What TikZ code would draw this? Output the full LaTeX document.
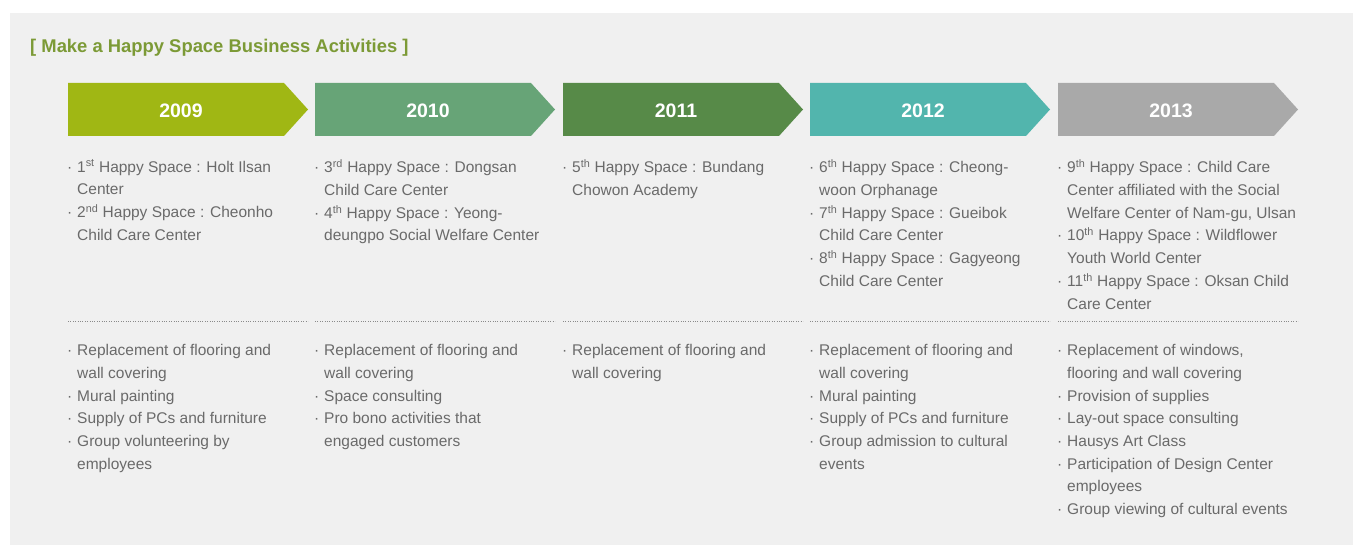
\documentclass[tikz,border=0pt]{standalone}
\usepackage{fontspec}
\setmainfont{Liberation Sans}
\definecolor{bg}{HTML}{F0F0F0}
\definecolor{txt}{HTML}{6A6A6A}
\definecolor{ttl}{HTML}{7C9A36}
\definecolor{c09}{HTML}{A0B714}
\definecolor{c10}{HTML}{67A477}
\definecolor{c11}{HTML}{578A48}
\definecolor{c12}{HTML}{52B5AD}
\definecolor{c13}{HTML}{A9A9A9}
\definecolor{dots}{HTML}{8A8A8A}
\newcommand\bu{\llap{·\hspace{5pt}}}
\newcommand\sups[1]{\textsuperscript{#1}}
\tikzset{
  year/.style={anchor=base, inner sep=0, text=white, font=\fontsize{19.5}{20}\selectfont\bfseries},
  item/.style={anchor=north west, inner sep=0, align=left, text=txt, font=\fontsize{15.5}{22.7}\selectfont, execute at begin node=\strut},
  sep/.style={draw=dots, line width=0.8pt, dash pattern=on 1pt off 1.4pt},
  ttlstyle/.style={anchor=base west, inner sep=0, text=ttl, font=\fontsize{18.4}{20}\selectfont\bfseries}
}
\begin{document}
\begin{tikzpicture}[x=1pt,y=-1pt]
\useasboundingbox (0,0) rectangle (1353,545);
\fill[bg] (10,13) rectangle (1353,545);
\node[ttlstyle] (title) at (30,52.3) {[ Make a Happy Space Business Activities ]};
% arrows
\foreach \x/\c/\yr in {68/c09/2009,315/c10/2010,563/c11/2011,810/c12/2012,1058/c13/2013}{
  \fill[\c] (\x,83) -- (\x+216,83) -- (\x+240,109.5) -- (\x+216,136) -- (\x,136) -- cycle;
  \node[year] (y\yr) at (\x+113,117.3) {\yr};
  \draw[sep] (\x,321.3) -- (\x+240,321.3);
}
% upper texts
\node[item] (u09) at (77,159.6) {\bu1\sups{st} Happy Space : Holt Ilsan\\Center\\\bu2\sups{nd} Happy Space : Cheonho\\Child Care Center};
\node[item] (u10) at (324,159.6) {\bu3\sups{rd} Happy Space : Dongsan\\Child Care Center\\\bu4\sups{th} Happy Space : Yeong-\\deungpo Social Welfare Center};
\node[item] (u11) at (572,159.6) {\bu5\sups{th} Happy Space : Bundang\\Chowon Academy};
\node[item] (u12) at (819,159.6) {\bu6\sups{th} Happy Space : Cheong-\\woon Orphanage\\\bu7\sups{th} Happy Space : Gueibok\\Child Care Center\\\bu8\sups{th} Happy Space : Gagyeong\\Child Care Center};
\node[item] (u13) at (1067,159.6) {\bu9\sups{th} Happy Space : Child Care\\Center affiliated with the Social\\Welfare Center of Nam-gu, Ulsan\\\bu10\sups{th} Happy Space : Wildflower\\Youth World Center\\\bu11\sups{th} Happy Space : Oksan Child\\Care Center};
% lower texts
\node[item] (l09) at (77,344.3) {\bu Replacement of flooring and\\wall covering\\\bu Mural painting\\\bu Supply of PCs and furniture\\\bu Group volunteering by\\employees};
\node[item] (l10) at (324,344.3) {\bu Replacement of flooring and\\wall covering\\\bu Space consulting\\\bu Pro bono activities that\\engaged customers};
\node[item] (l11) at (572,344.3) {\bu Replacement of flooring and\\wall covering};
\node[item] (l12) at (819,344.3) {\bu Replacement of flooring and\\wall covering\\\bu Mural painting\\\bu Supply of PCs and furniture\\\bu Group admission to cultural\\events};
\node[item] (l13) at (1067,344.3) {\bu Replacement of windows,\\flooring and wall covering\\\bu Provision of supplies\\\bu Lay-out space consulting\\\bu Hausys Art Class\\\bu Participation of Design Center\\employees\\\bu Group viewing of cultural events};
\end{tikzpicture}
\end{document}
